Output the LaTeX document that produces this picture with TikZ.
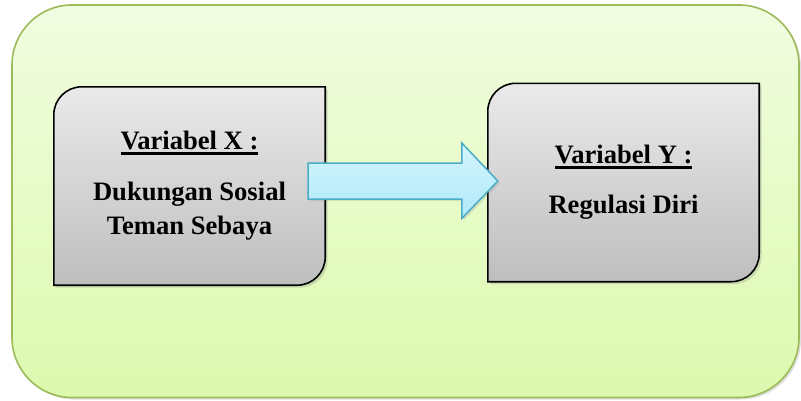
\documentclass[tikz,border=0pt]{standalone}
\usepackage{fontspec}
\setmainfont{Liberation Serif}
\usetikzlibrary{calc, backgrounds, shadows}

% Colours of the frame, the two boxes and the block arrow.
\definecolor{framegreen}{RGB}{155,187,89}
\definecolor{frametop}{RGB}{241,253,225}
\definecolor{framebottom}{RGB}{220,249,174}
\definecolor{boxtop}{RGB}{234,234,234}
\definecolor{boxbottom}{RGB}{190,190,190}
\definecolor{arrowtop}{RGB}{212,245,253}
\definecolor{arrowbottom}{RGB}{176,233,250}
\definecolor{arrowline}{RGB}{75,172,198}

% Thick underline for the variable headings.
\newcommand{\varline}[1]{\leavevmode\setbox0=\hbox{#1}\rlap{\rule[-5pt]{\wd0}{2.4pt}}\box0}

\begin{document}
\begin{tikzpicture}[%
        x = 1pt,
        y = 1pt,
        line join = round,
        varnode/.style = {%
            minimum width = 271pt,
            minimum height = 198pt,
            inner sep = 0pt,
            align = center,
            font = \bfseries\fontsize{26.6}{34}\selectfont
        },
        frame/.style = {%
            draw = framegreen,
            line width = 1.6pt,
            top color = frametop,
            bottom color = framebottom,
            rounded corners = 60pt,
            drop shadow = {shadow xshift = 2pt, shadow yshift = -2pt, opacity = 0.25}
        },
        boxfill/.style = {%
            draw = black,
            line width = 1.6pt,
            top color = boxtop,
            bottom color = boxbottom,
            drop shadow = {shadow xshift = 2.5pt, shadow yshift = -2.5pt, opacity = 0.25}
        },
        blockarrow/.style = {%
            draw = arrowline,
            line width = 1.5pt,
            top color = arrowtop,
            bottom color = arrowbottom,
            drop shadow = {shadow xshift = 2pt, shadow yshift = -2pt, opacity = 0.2}
        }
    ]

        \begingroup

            % Corner radius of the two boxes.
            \newcommand{\brad}{28pt}

            % Outline with round top left and bottom right corners.
            \newcommand{\diagbox}[1]{%
                \draw[boxfill] (#1.south west)
                    -- ($(#1.north west) + (0, -28)$) arc (180:90:\brad)
                    -- (#1.north east)
                    -- ($(#1.south east) + (0, 28)$) arc (0:-90:\brad)
                    -- cycle;
            }

            \useasboundingbox (0, 0) rectangle (801, 400);

            % The two variables.
            \node[varnode] (varx) at (189.5, 214)
                {\varline{Variabel X :}\\[17pt]Dukungan Sosial\\Teman Sebaya};
            \node[varnode] (vary) at (623.5, 217.5)
                {\varline{Variabel Y :}\\[16pt]Regulasi Diri};

            % Ends of the block arrow.
            \coordinate (tail) at ($(varx.east) + (-17, 5)$);
            \coordinate (tip) at ($(vary.west) + (10, 1.5)$);

            \begin{pgfonlayer}{background}

                % Green frame.
                \draw[frame] (12, 2.5) rectangle (799, 395);

                % Boxes.
                \diagbox{varx}
                \diagbox{vary}

                % Block arrow from X to Y.
                \draw[blockarrow] ($(tail) + (0, 18)$)
                    -- ($(tip) + (-36, 18)$)
                    -- ($(tip) + (-36, 38)$)
                    -- (tip)
                    -- ($(tip) + (-36, -37.5)$)
                    -- ($(tip) + (-36, -18)$)
                    -- ($(tail) + (0, -18)$)
                    -- cycle;
            \end{pgfonlayer}
        \endgroup
    \end{tikzpicture}
\end{document}
